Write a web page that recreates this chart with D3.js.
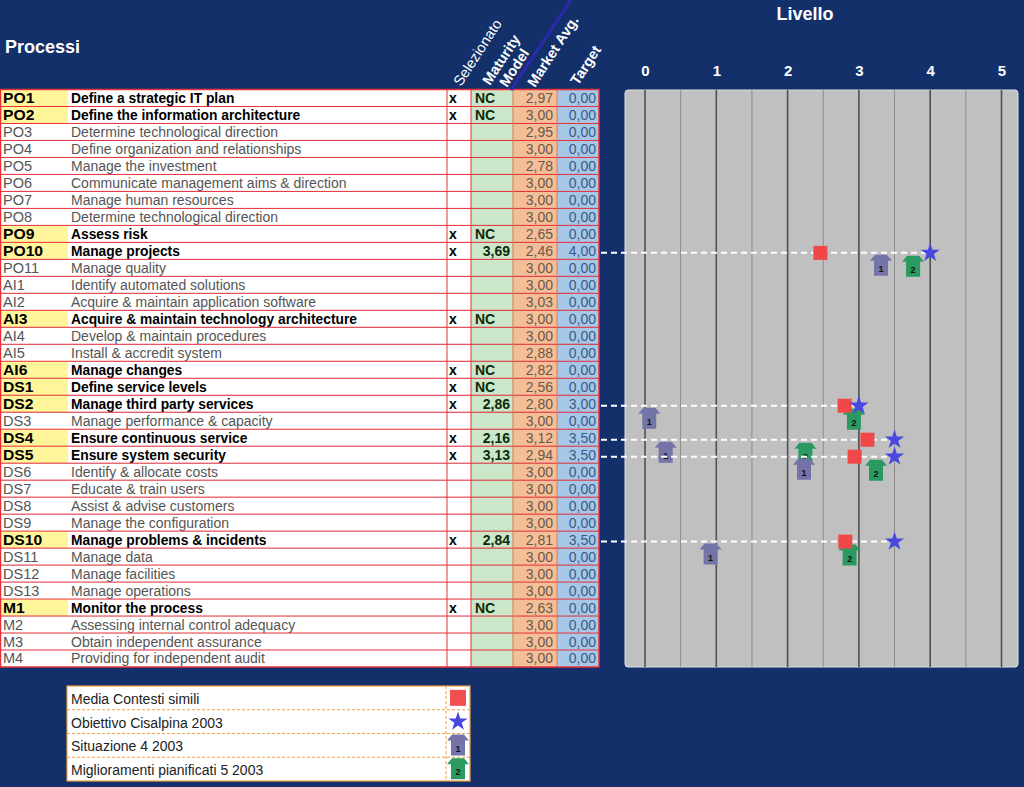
<!DOCTYPE html>
<html><head><meta charset="utf-8">
<script src="https://cdn.jsdelivr.net/npm/d3@7/dist/d3.min.js"></script>
<style>html,body{margin:0;padding:0;background:#13306a;}svg{display:block;font-family:"Liberation Sans",Arial,sans-serif;}</style>
</head><body>
<script>
// ---------- DATA ----------
const ids = ["PO1","PO2","PO3","PO4","PO5","PO6","PO7","PO8","PO9","PO10","PO11",
  "AI1","AI2","AI3","AI4","AI5","AI6",
  "DS1","DS2","DS3","DS4","DS5","DS6","DS7","DS8","DS9","DS10","DS11","DS12","DS13",
  "M1","M2","M3","M4"];
const descriptions = ["Define a strategic IT plan","Define the information architecture","Determine technological direction",
  "Define organization and relationships","Manage the investment","Communicate management aims & direction",
  "Manage human resources","Determine technological direction","Assess risk","Manage projects","Manage quality",
  "Identify automated solutions","Acquire & maintain application software","Acquire & maintain technology architecture",
  "Develop & maintain procedures","Install & accredit system","Manage changes",
  "Define service levels","Manage third party services","Manage performance & capacity","Ensure continuous service",
  "Ensure system security","Identify & allocate costs","Educate & train users","Assist & advise customers",
  "Manage the configuration","Manage problems & incidents","Manage data","Manage facilities","Manage operations",
  "Monitor the process","Assessing internal control adequacy","Obtain independent assurance","Providing for independent audit"];
const selected = ["PO1","PO2","PO9","PO10","AI3","AI6","DS1","DS2","DS4","DS5","DS10","M1"];
const maturity = {PO1:"NC",PO2:"NC",PO9:"NC",PO10:"3,69",AI3:"NC",AI6:"NC",DS1:"NC",DS2:"2,86",DS4:"2,16",DS5:"3,13",DS10:"2,84",M1:"NC"};
const marketAvg = [2.97,3.00,2.95,3.00,2.78,3.00,3.00,3.00,2.65,2.46,3.00,
  3.00,3.03,3.00,3.00,2.88,2.82,
  2.56,2.80,3.00,3.12,2.94,3.00,3.00,3.00,3.00,2.81,3.00,3.00,3.00,
  2.63,3.00,3.00,3.00];
const target = [0,0,0,0,0,0,0,0,0,4.00,0, 0,0,0,0,0,0, 0,3.00,0,3.50,3.50,0,0,0,0,3.50,0,0,0, 0,0,0,0];
// chart-only series
const plotRows = ["PO10","DS2","DS4","DS5","DS10"];
const situazione = [3.31,0.06,0.29,2.23,0.92];      // "Situazione 4 2003"
const pianificati = [3.76,2.93,2.25,3.24,2.87];     // "Miglioramenti pianificati 5 2003"
const levelTicks = [0,1,2,3,4,5];
const legendLabels = ["Media Contesti simili","Obiettivo Cisalpina 2003","Situazione 4 2003","Miglioramenti pianificati 5 2003"];

// ---------- LAYOUT ----------
const W=1024,H=787;
const fmt = v => v.toFixed(2).replace(".",",");
const svg = d3.select("body").append("svg").attr("width",W).attr("height",H);
svg.append("rect").attr("width",W).attr("height",H).attr("fill","#13306a");

const y = d3.scaleBand().domain(ids).range([89.5,667]);
const x = d3.scaleLinear().domain([0,5]).range([645,1001.5]);
const rh = y.bandwidth();
const red="#e8303a";

// ---------- TABLE ----------
const cols = {id:0, desc:68, sel:447, mat:471, mkt:513, tgt:557, end:599};
const rows = svg.append("g").selectAll("g").data(ids).join("g")
  .attr("transform",d=>`translate(0,${y(d)})`);
rows.append("rect").attr("x",0).attr("width",cols.mat).attr("height",rh).attr("fill","#fff");
rows.filter(d=>selected.includes(d)).append("rect").attr("x",0).attr("width",cols.desc).attr("height",rh).attr("fill","#fff59a");
rows.append("rect").attr("x",cols.mat).attr("width",cols.mkt-cols.mat).attr("height",rh).attr("fill","#cbe6c8");
rows.append("rect").attr("x",cols.mkt).attr("width",cols.tgt-cols.mkt).attr("height",rh).attr("fill","#f4bf98");
rows.append("rect").attr("x",cols.tgt).attr("width",cols.end-cols.tgt).attr("height",rh).attr("fill","#a6c8e6");

const sel = d=>selected.includes(d);
const tb = rh/2+5;
rows.append("text").attr("y",tb).text(d=>d)
  .attr("font-size",14).attr("font-weight",d=>sel(d)?"bold":"normal").attr("fill",d=>sel(d)?"#000":"#555")
  .attr("transform",d=>sel(d)?"scale(1.12,1)":"scale(1.04,1)").attr("x",d=>sel(d)?3/1.12:3/1.04);
rows.append("text").attr("x",71).attr("y",tb).text((d,i)=>descriptions[i])
  .attr("font-size",d=>sel(d)?13.8:14).attr("font-weight",d=>sel(d)?"bold":"normal").attr("fill",d=>sel(d)?"#000":"#555");
rows.filter(sel).append("text").attr("x",449).attr("y",tb).text("x").attr("font-size",14).attr("font-weight","bold");
rows.filter(sel).append("text").attr("font-size",14).attr("font-weight","bold").attr("fill","#0c2a0c")
  .attr("y",tb)
  .attr("x",d=>maturity[d]==="NC"?475:510).attr("text-anchor",d=>maturity[d]==="NC"?"start":"end")
  .text(d=>maturity[d]);
rows.append("text").attr("x",553).attr("y",tb).attr("text-anchor","end").attr("font-size",14)
  .attr("fill","#6a5848").text((d,i)=>fmt(marketAvg[i]));
rows.append("text").attr("x",596).attr("y",tb).attr("text-anchor","end").attr("font-size",14)
  .attr("fill","#3a5a88").text((d,i)=>fmt(target[i]));

// grid lines of table
const tg = svg.append("g");
ids.forEach(d=>{
  tg.append("line").attr("x1",0).attr("x2",cols.end).attr("y1",y(d)).attr("y2",y(d)).attr("stroke",red).attr("stroke-width",1);
});
[cols.sel,cols.mat,cols.mkt,cols.tgt].forEach(cx=>{
  tg.append("line").attr("x1",cx).attr("x2",cx).attr("y1",89.5).attr("y2",667).attr("stroke",cx===cols.mkt||cx===cols.tgt?"#e07a50":red).attr("stroke-width",1);
});
tg.append("rect").attr("x",0.5).attr("y",89.5).attr("width",cols.end-0.5).attr("height",667-89.5)
  .attr("fill","none").attr("stroke",red).attr("stroke-width",1.5);

// ---------- HEADERS ----------
svg.append("text").attr("x",5).attr("y",53).text("Processi").attr("fill","#fff").attr("font-size",18).attr("font-weight","bold");
svg.append("line").attr("x1",511).attr("y1",90).attr("x2",571).attr("y2",0).attr("stroke","#2a2ab0").attr("stroke-width",3);
const hdr = [
  {t:"Selezionato",x:461,y:87,w:"normal"},
  {t:"Maturity",x:490,y:86,w:"bold"},
  {t:"Model",x:507,y:88,w:"bold"},
  {t:"Market Avg.",x:535,y:88,w:"bold"},
  {t:"Target",x:578,y:86,w:"bold"}];
svg.append("g").selectAll("text").data(hdr).join("text")
  .attr("transform",d=>`translate(${d.x},${d.y}) rotate(-57)`)
  .attr("fill","#fff").attr("font-size",14.5).attr("font-weight",d=>d.w).text(d=>d.t);

// ---------- CHART PANEL ----------
svg.append("rect").attr("x",625).attr("y",90).attr("width",393).attr("height",577).attr("rx",3)
  .attr("fill","#c0c0c0").attr("stroke","#e0e0e0").attr("stroke-width",1);
const minor = d3.range(0.5,5,1);
svg.append("g").selectAll("line").data(minor).join("line")
  .attr("x1",d=>x(d)).attr("x2",d=>x(d)).attr("y1",90).attr("y2",667).attr("stroke","#8c8c8c").attr("stroke-width",1);
svg.append("g").selectAll("line").data(levelTicks).join("line")
  .attr("x1",d=>x(d)).attr("x2",d=>x(d)).attr("y1",90).attr("y2",667).attr("stroke","#505050").attr("stroke-width",1.6);

const axis = svg.append("g").attr("transform","translate(0,76)")
  .call(d3.axisTop(x).tickValues(levelTicks).tickSize(0).tickPadding(0).tickFormat(d3.format("d")));
axis.select(".domain").remove();
axis.selectAll("text").attr("fill","#fff").attr("font-size",15).attr("font-weight","bold")
  .attr("font-family","'Liberation Sans',Arial,sans-serif");
svg.append("text").attr("x",805).attr("y",20).attr("text-anchor","middle").text("Livello")
  .attr("fill","#fff").attr("font-size",18).attr("font-weight","bold");

// ---------- MARKERS ----------
const star = d3.symbol().type(d3.symbolStar).size(115);
function arrow(g, cx, top, fill, label){
  const a = g.append("g").attr("transform",`translate(${cx},${top})`);
  a.append("path").attr("d","M-6,0 L6,0 L11,6 L7,6 L7,21 L-7,21 L-7,6 L-11,6 Z").attr("fill",fill);
  a.append("text").attr("x",0).attr("y",17).attr("text-anchor","middle").attr("font-size",9)
    .attr("font-weight","bold").attr("fill","#111").text(label);
}
const mk = svg.append("g");
plotRows.forEach((r,k)=>{
  const i = ids.indexOf(r);
  const cy = y(r)+rh/2+2;
  mk.append("line").attr("x1",cols.end+2).attr("x2",x(target[i])).attr("y1",cy).attr("y2",cy)
    .attr("stroke","#fff").attr("stroke-width",2).attr("stroke-dasharray","6,4");
  arrow(mk, x(situazione[k]), cy+2, "#7474a8", "1");
  arrow(mk, x(pianificati[k]), cy+3, "#2a9a60", "2");
  mk.append("rect").attr("x",x(marketAvg[i])-7).attr("y",cy-7).attr("width",14).attr("height",14).attr("fill","#f04848");
  mk.append("path").attr("d",star).attr("transform",`translate(${x(target[i])},${cy})`).attr("fill","#4848e0");
});

// ---------- LEGEND ----------
const lg = svg.append("g");
const ly = d3.scaleBand().domain(legendLabels).range([686,781]);
lg.append("rect").attr("x",67).attr("y",686).attr("width",403).attr("height",95).attr("fill","#fff")
  .attr("stroke","#f0a040").attr("stroke-width",1.2);
legendLabels.forEach((t,i)=>{
  const yy = ly(t);
  if(i>0) lg.append("line").attr("x1",67).attr("x2",470).attr("y1",yy).attr("y2",yy)
    .attr("stroke","#f0a040").attr("stroke-dasharray","3,2");
  lg.append("text").attr("x",71).attr("y",yy+ly.bandwidth()/2+6).text(t).attr("font-size",14).attr("fill","#222");
});
lg.append("line").attr("x1",446).attr("x2",446).attr("y1",686).attr("y2",781).attr("stroke","#f0a040").attr("stroke-dasharray","3,2");
const lc = 458;
lg.append("rect").attr("x",lc-8).attr("y",ly(legendLabels[0])+ly.bandwidth()/2-8).attr("width",16).attr("height",16).attr("fill","#f05050");
lg.append("path").attr("d",star).attr("transform",`translate(${lc},${ly(legendLabels[1])+ly.bandwidth()/2})`).attr("fill","#4848e0");
arrow(lg, lc, ly(legendLabels[2])+1, "#7474a8", "1");
arrow(lg, lc, ly(legendLabels[3])+1, "#2a9a60", "2");
</script>
</body></html>
